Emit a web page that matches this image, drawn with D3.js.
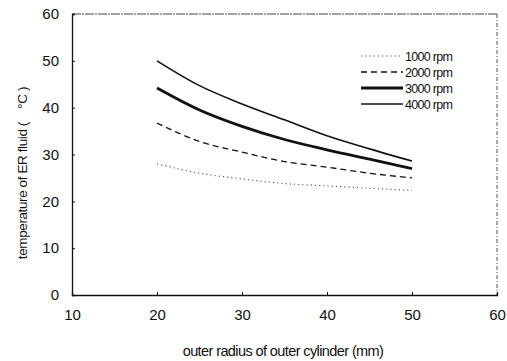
<!DOCTYPE html>
<html>
<head>
<meta charset="utf-8">
<script src="https://cdn.jsdelivr.net/npm/d3@7"></script>
<style>
  body { margin: 0; background: #fff; }
  svg { display: block; font-family: "Liberation Sans", Arial, sans-serif; }
</style>
</head>
<body>
<div id="chart"></div>
<script>
// Данные
const radius = [20, 25, 30, 35, 40, 45, 50];
const rpm1000 = [28.0, 26.0, 24.8, 23.8, 23.3, 22.8, 22.3];
const rpm2000 = [36.7, 32.8, 30.5, 28.5, 27.3, 26.0, 25.0];
const rpm3000 = [44.2, 39.5, 36.0, 33.2, 31.0, 29.0, 27.0];
const rpm4000 = [50.0, 44.7, 40.8, 37.4, 34.0, 31.2, 28.6];
const seriesNames = ['1000 rpm', '2000 rpm', '3000 rpm', '4000 rpm'];
const xTicks = [10, 20, 30, 40, 50, 60];
const yTicks = [0, 10, 20, 30, 40, 50, 60];

const width = 507, height = 361;
const margin = { top: 14, right: 10, bottom: 66, left: 72 };

const svg = d3.select('#chart').append('svg')
    .attr('width', width)
    .attr('height', height);

const x = d3.scaleLinear().domain([10, 60]).range([margin.left, width - margin.right]);
const y = d3.scaleLinear().domain([0, 60]).range([height - margin.bottom, margin.top]);

// Рамка сверху и справа — тонкая пунктирная
svg.append('line')
    .attr('x1', x(10)).attr('x2', x(60))
    .attr('y1', y(60)).attr('y2', y(60))
    .attr('stroke', '#444').attr('stroke-width', 1)
    .attr('stroke-dasharray', '9,1,2,1');
svg.append('line')
    .attr('x1', x(60)).attr('x2', x(60))
    .attr('y1', y(60)).attr('y2', y(0))
    .attr('stroke', '#555').attr('stroke-width', 1)
    .attr('stroke-dasharray', '4,2,1,2');

// Оси
const xAxis = svg.append('g')
    .attr('transform', `translate(0,${y(0)})`)
    .call(d3.axisBottom(x).tickValues(xTicks).tickSize(-3).tickPadding(14));
const yAxis = svg.append('g')
    .attr('transform', `translate(${x(10)},0)`)
    .call(d3.axisLeft(y).tickValues(yTicks).tickSize(-3).tickPadding(13));

[xAxis, yAxis].forEach(g => {
    g.select('.domain').attr('stroke', '#111').attr('stroke-width', 1.3);
    g.selectAll('.tick line').attr('stroke', '#111');
    g.selectAll('.tick text')
        .attr('fill', '#111')
        .attr('font-size', 15)
        .attr('font-family', '"Liberation Sans", Arial, sans-serif');
});

// Серии
const styles = [
    { w: 1.1, dash: '1.2,3', color: '#555' },
    { w: 1.3, dash: '6,4', color: '#111' },
    { w: 2.8, dash: null, color: '#111' },
    { w: 1.6, dash: null, color: '#111' }
];
const allSeries = [rpm1000, rpm2000, rpm3000, rpm4000];

const line = d3.line()
    .x((d, i) => x(radius[i]))
    .y(d => y(d))
    .curve(d3.curveMonotoneX);

allSeries.forEach((vals, k) => {
    svg.append('path')
        .datum(vals)
        .attr('d', line)
        .attr('fill', 'none')
        .attr('stroke', styles[k].color)
        .attr('stroke-width', styles[k].w)
        .attr('stroke-dasharray', styles[k].dash);
});

// Легенда
const legend = svg.append('g').attr('transform', 'translate(361,56)');
seriesNames.forEach((name, k) => {
    const row = legend.append('g').attr('transform', `translate(0,${k * 16})`);
    row.append('line')
        .attr('x1', 0).attr('x2', 42)
        .attr('stroke', styles[k].color)
        .attr('stroke-width', styles[k].w)
        .attr('stroke-dasharray', styles[k].dash);
    row.append('text')
        .attr('x', 44).attr('y', 4.5)
        .attr('font-size', 12.5)
        .attr('letter-spacing', -0.7)
        .attr('fill', '#111')
        .text(name);
});

// Подписи осей
svg.append('text')
    .attr('x', 283).attr('y', 356)
    .attr('text-anchor', 'middle')
    .attr('font-size', 14.5)
    .attr('letter-spacing', -0.6)
    .attr('fill', '#111')
    .text('outer radius of outer cylinder (mm)');

svg.append('text')
    .attr('transform', 'translate(27,173) rotate(-90)')
    .attr('text-anchor', 'middle')
    .attr('font-size', 13.5)
    .attr('letter-spacing', -0.4)
    .attr('fill', '#111')
    .attr('xml:space', 'preserve')
    .style('white-space', 'pre')
    .text('temperature of ER fluid (    °C )');
</script>
</body>
</html>
